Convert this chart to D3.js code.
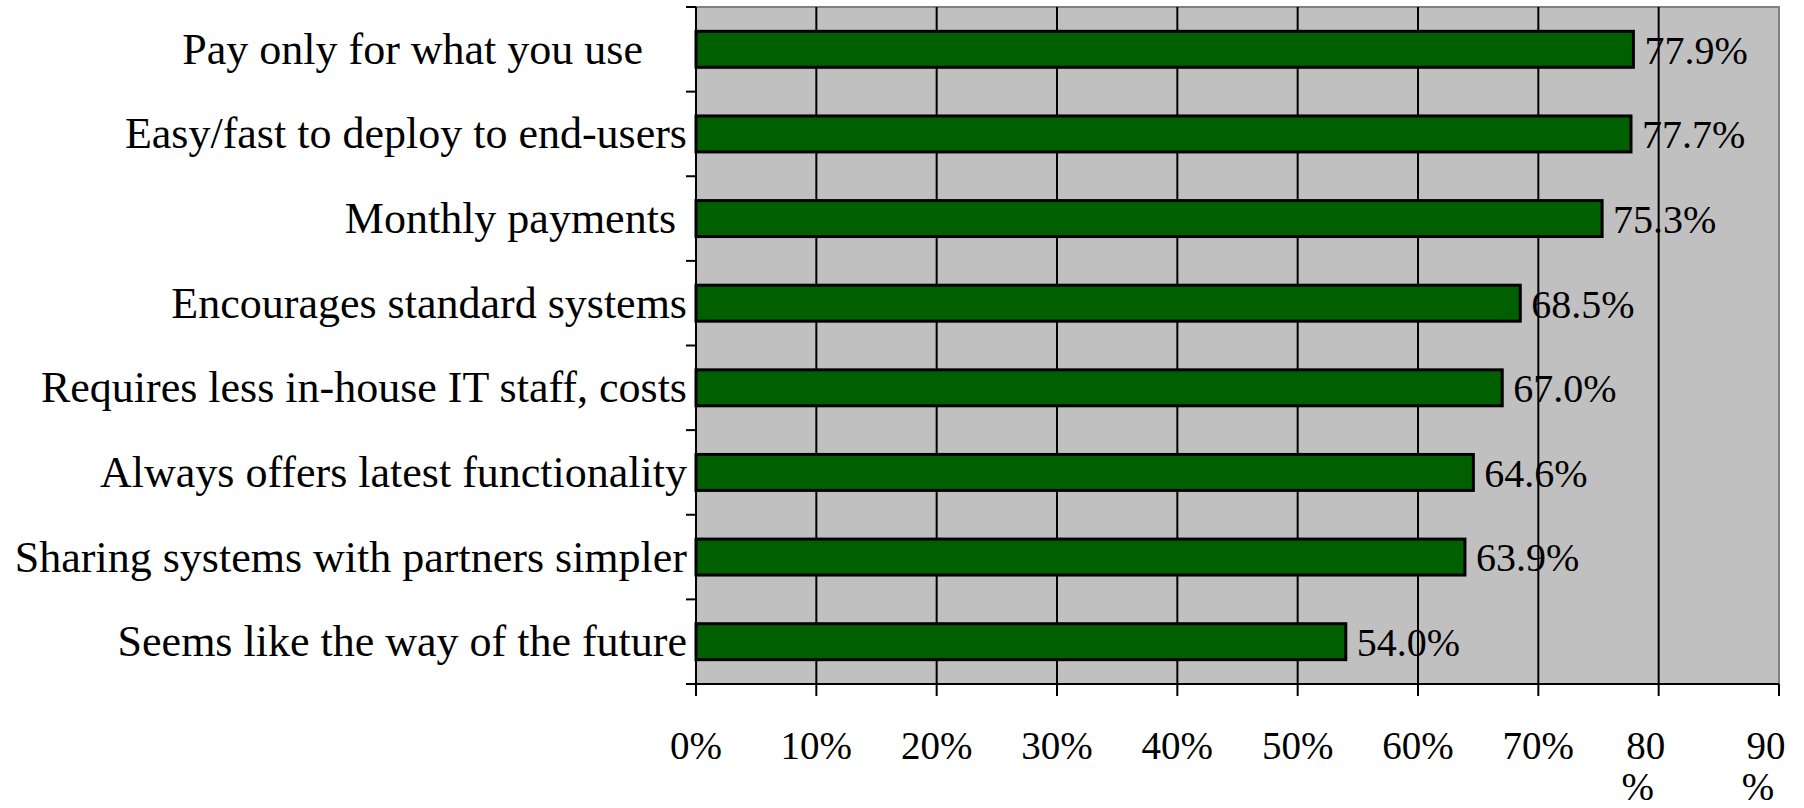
<!DOCTYPE html>
<html>
<head>
<meta charset="utf-8">
<script src="https://cdn.jsdelivr.net/npm/d3@7"></script>
<style>
  body { margin: 0; background: #fff; }
  text { font-family: "Liberation Serif", "DejaVu Serif", serif; fill: #000; }
</style>
</head>
<body>
<div id="chart-area"></div>
<script>
// Chart data
var categories = [
    "Pay only for what you use    ",
    "Easy/fast to deploy to end-users",
    "Monthly payments ",
    "Encourages standard systems",
    "Requires less in-house IT staff, costs",
    "Always offers latest functionality",
    "Sharing systems with partners simpler",
    "Seems like the way of the future"
];
var values = [77.9, 77.7, 75.3, 68.5, 67.0, 64.6, 63.9, 54.0];
var xTicks = [0, 10, 20, 30, 40, 50, 60, 70, 80, 90];
var xTickLabels = ["0%", "10%", "20%", "30%", "40%", "50%", "60%", "70%", "80\n%", "90\n%"];

var margin = {top: 7, right: 25, bottom: 124, left: 696},
    width = 1083,
    height = 677;

var svg = d3.select("#chart-area").append("svg")
    .attr("width", 1804)
    .attr("height", 808);
var g = svg.append("g")
    .attr("transform", "translate(" + margin.left + "," + margin.top + ")");

// Scales
var x = d3.scaleLinear().domain([0, 90]).range([0, width]);
var y = d3.scaleBand().domain(categories).range([0, height]).paddingInner(0.575).paddingOuter(0.2875);
var yb = d3.scaleBand().domain(categories).range([0, height]);

// Plot background
g.append("rect")
    .attr("width", width)
    .attr("height", height)
    .attr("fill", "#c0c0c0")
    .attr("stroke", "#808080")
    .attr("stroke-width", 2);

// Vertical grid lines
g.selectAll(".grid")
    .data(xTicks.filter((d) => d > 0 && d < 90))
    .enter().append("line")
    .attr("class", "grid")
    .attr("x1", (d) => x(d))
    .attr("x2", (d) => x(d))
    .attr("y1", 0)
    .attr("y2", height)
    .attr("stroke", "#000")
    .attr("stroke-width", 2);

// Bars
g.selectAll(".bar")
    .data(values)
    .enter().append("rect")
    .attr("class", "bar")
    .attr("x", 0)
    .attr("y", (d, i) => y(categories[i]))
    .attr("width", (d) => x(d))
    .attr("height", y.bandwidth())
    .attr("fill", "#006000")
    .attr("stroke", "#000")
    .attr("stroke-width", 3);

// Value labels
g.selectAll(".value")
    .data(values)
    .enter().append("text")
    .attr("class", "value")
    .attr("x", (d) => x(d) + 11)
    .attr("y", (d, i) => y(categories[i]) + y.bandwidth() / 2)
    .attr("dy", "0.36em")
    .style("font-size", "40px")
    .text((d) => d.toFixed(1) + "%");

// Y axis (category ticks at band boundaries)
var yAxis = g.append("g").attr("class", "y axis");
yAxis.append("line")
    .attr("x1", 0).attr("x2", 0)
    .attr("y1", 0).attr("y2", height)
    .attr("stroke", "#000").attr("stroke-width", 2);
yAxis.selectAll(".ytick")
    .data(categories.concat([null]))
    .enter().append("line")
    .attr("class", "ytick")
    .attr("x1", -10).attr("x2", 0)
    .attr("y1", (d, i) => i * yb.step())
    .attr("y2", (d, i) => i * yb.step())
    .attr("stroke", "#000").attr("stroke-width", 2);
yAxis.selectAll(".ylabel")
    .data(categories)
    .enter().append("text")
    .attr("class", "ylabel")
    .attr("x", -9)
    .attr("y", (d) => yb(d) + yb.bandwidth() / 2)
    .attr("dy", "0.33em")
    .attr("text-anchor", "end")
    .style("font-size", "44px")
    .style("white-space", "pre")
    .text((d) => d);

// X axis
var xAxis = g.append("g")
    .attr("class", "x axis")
    .attr("transform", "translate(0," + height + ")");
xAxis.append("line")
    .attr("x1", -10).attr("x2", width)
    .attr("stroke", "#000").attr("stroke-width", 2);
xAxis.selectAll(".xtick")
    .data(xTicks)
    .enter().append("line")
    .attr("class", "xtick")
    .attr("x1", (d) => x(d)).attr("x2", (d) => x(d))
    .attr("y1", 0).attr("y2", 12)
    .attr("stroke", "#000").attr("stroke-width", 2);

// Tick labels; the last two wrap onto a second line
var xLabels = xAxis.selectAll(".xlabel")
    .data(xTicks)
    .enter().append("text")
    .attr("class", "xlabel")
    .attr("text-anchor", "middle")
    .style("font-size", "39px");
xLabels.each(function(d, i) {
    var lines = xTickLabels[i].split("\n");
    var t = d3.select(this);
    lines.forEach((line, j) => {
        var shift = lines.length > 1 ? (j === 0 ? -13 : -21) : 0;
        t.append("tspan")
            .attr("x", x(d) + shift)
            .attr("y", 75 + j * 41)
            .text(line);
    });
});
</script>
</body>
</html>
